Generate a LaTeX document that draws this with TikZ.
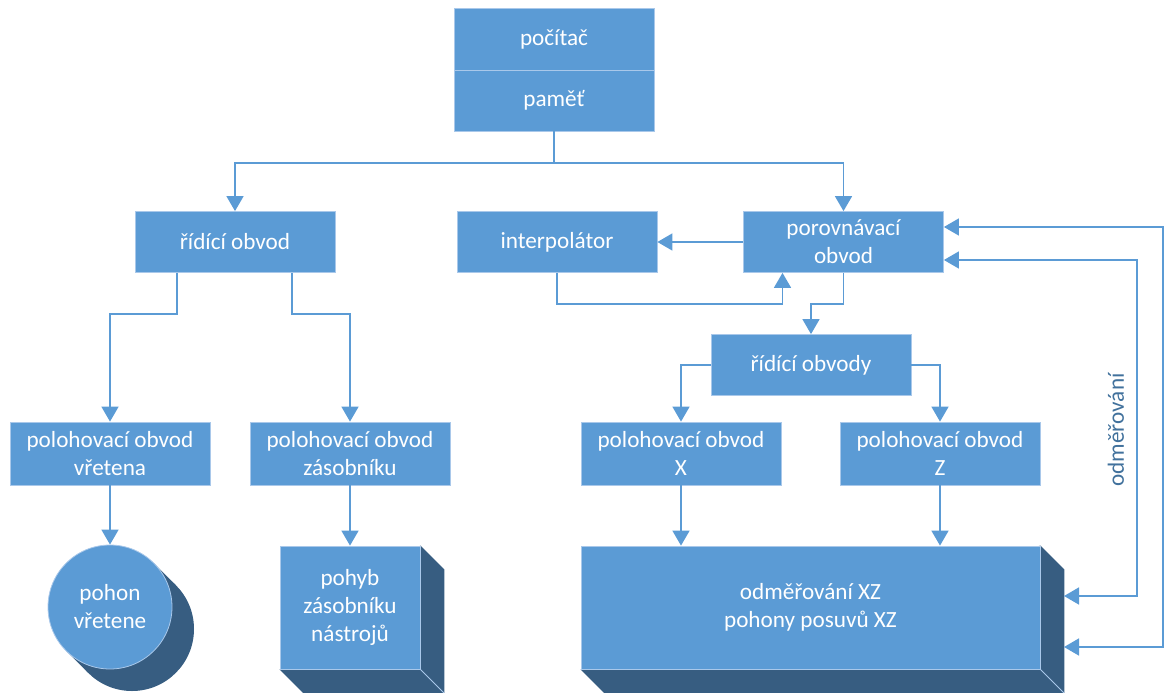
\documentclass[tikz,border=0pt]{standalone}
\usepackage{fontspec}
\setmainfont{Carlito}
\usetikzlibrary{arrows.meta,backgrounds}
\definecolor{boxblue}{HTML}{5B9BD5}
\definecolor{boxdark}{HTML}{375D81}
\definecolor{boxedge}{HTML}{A9C8EA}
\definecolor{labelblue}{HTML}{41719C}
\def\depth{24}

\tikzset{
  blk/.style={rectangle, fill=boxblue, draw=boxedge, line width=0.8pt, text=white,
    align=center, minimum width=200pt, minimum height=61pt, inner sep=0pt,
    font=\fontsize{23.2}{28}\selectfont},
  link/.style={draw=boxblue, line width=1.6pt, -{Triangle[length=15pt,width=17pt]}},
  dlink/.style={draw=boxblue, line width=1.6pt,
    {Triangle[length=15pt,width=17pt]}-{Triangle[length=15pt,width=17pt]}},
  wire/.style={draw=boxblue, line width=1.6pt},
}

\begin{document}
\begin{tikzpicture}[x=1pt,y=-1pt]
            \useasboundingbox (0,0) rectangle (1165,693);

            \node[blk, minimum height=62pt] (pc) at (554, 39) {počítač};
            \node[blk] (mem) at (554, 100.5) {paměť};

            \node[blk] (ctrl) at (235, 242) {řídící obvod};
            \node[blk] (interp) at (557, 242) {interpolátor};
            \node[blk] (comp) at (843.5, 242) {porovnávací\\obvod};
            \node[blk] (ctrlxz) at (811, 365) {řídící obvody};

            \node[blk, minimum height=63pt] (posspin) at (110, 453.5) {polohovací obvod\\vřetena};
            \node[blk, minimum height=63pt] (posmag) at (350, 453.5) {polohovací obvod\\zásobníku};
            \node[blk, minimum height=63pt] (posx) at (681, 453.5) {polohovací obvod\\X};
            \node[blk, minimum height=63pt] (posz) at (940, 453.5) {polohovací obvod\\Z};

            \node[blk, circle, minimum width=124pt, minimum height=124pt] (spin) at (110, 607) {pohon\\vřetene};
            \node[blk, minimum width=140pt, minimum height=123pt] (mag) at (350, 607.5) {pohyb\\zásobníku\\nástrojů};
            \node[blk, minimum width=459pt, minimum height=123pt] (drive) at (810.5, 607.5) {odměřování XZ\\pohony posuvů XZ};

            % dark 3D sides
            \begin{scope}[on background layer]
                \fill[boxdark] ([shift={(43.8,-43.8)}]spin.center) -- ++(22,22)
                    -- ([shift={(-21.8,65.8)}]spin.center) -- ([shift={(-43.8,43.8)}]spin.center) -- cycle;
                \fill[boxdark] ([shift={(22,22)}]spin.center) circle (62);
                \foreach \b in {mag, drive} {
                    \fill[boxdark] (\b.north east) -- ++(\depth,\depth)
                        -- ([shift={(\depth,\depth)}]\b.south east)
                        -- ([shift={(\depth,\depth)}]\b.south west)
                        -- (\b.south west) -- cycle;
                    \draw[boxedge, line width=0.8pt] (\b.south east) -- ++(\depth,\depth);
                }
            \end{scope}

            \coordinate (split) at (554, 163);
            \coordinate (fbin) at (1064, 596);
            \coordinate (fbout) at (1064, 647);

            \draw[wire] (mem) -- (split);
            \draw[link] (split) -| (ctrl);
            \draw[link] (split) -| (comp);

            \draw[link] (comp) -- (interp);
            \draw[link] (interp.south) -- ++(0, 31) -| ([xshift=-61pt]comp.south);
            \draw[link] (comp.south) -- ++(0, 31) -| (ctrlxz.north);

            \draw[link] (ctrl.south -| 177, 0) -- ++(0, 41) -| (posspin.north);
            \draw[link] (ctrl.south -| 292, 0) -- ++(0, 41) -| (posmag.north);
            \draw[link] (ctrlxz.west) -| (posx.north);
            \draw[link] (ctrlxz.east) -| (posz.north);

            \draw[link] (posspin) -- (spin);
            \draw[link] (posmag) -- (mag);
            \draw[link] (posx) -- (posx |- drive.north);
            \draw[link] (posz) -- (posz |- drive.north);

            % feedback loops
            \draw[dlink] ([yshift=-18pt]comp.east) -- ++(193, 0) |- (fbin);
            \draw[dlink] ([yshift=15pt]comp.east) -- ++(219, 0) |- (fbout);

            \node[rotate=90, text=labelblue, font=\fontsize{23.2}{28}\selectfont] (meas) at (1116, 430) {odměřování};

\end{tikzpicture}
\end{document}
